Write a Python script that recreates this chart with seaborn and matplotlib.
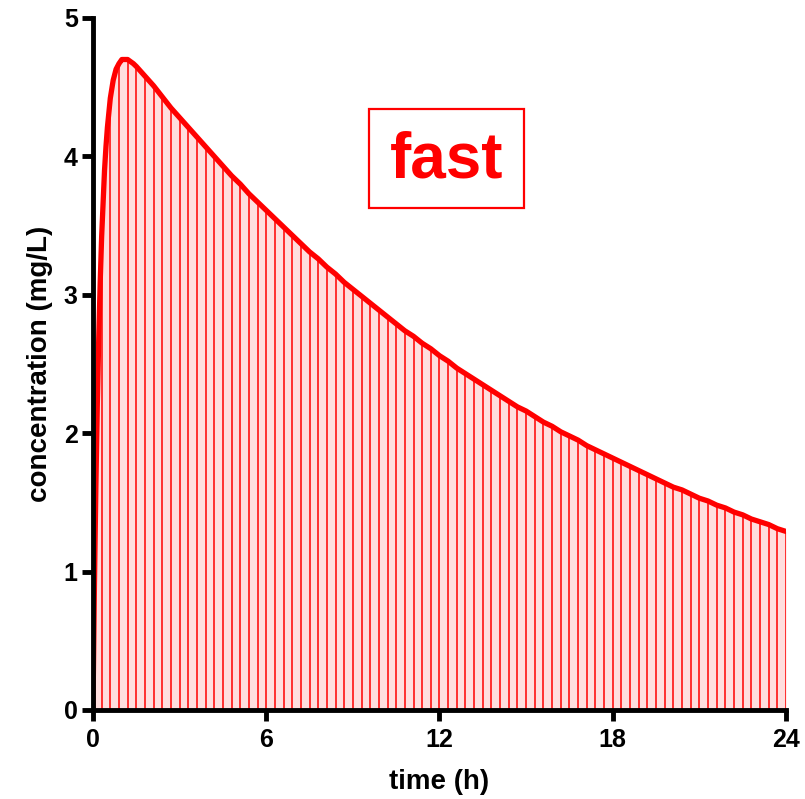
"""Concentration-time profile, fast absorption (one-compartment oral dose)."""

import matplotlib
matplotlib.use("Agg")
import matplotlib.pyplot as plt
import seaborn as sns
import pandas as pd
from matplotlib.patches import Rectangle

# sampled points, every 0.3 h (each one gets a vertical line)
time_h = [round(i * 0.3, 1) for i in range(81)]
conc = [
    0.00, 3.42, 4.42, 4.67, 4.70, 4.65, 4.58, 4.51, 4.43, 4.35,
    4.28, 4.21, 4.14, 4.07, 4.00, 3.93, 3.86, 3.80, 3.73, 3.67,
    3.61, 3.55, 3.49, 3.43, 3.37, 3.31, 3.26, 3.20, 3.15, 3.09,
    3.04, 2.99, 2.94, 2.89, 2.84, 2.79, 2.74, 2.70, 2.65, 2.61,
    2.56, 2.52, 2.47, 2.43, 2.39, 2.35, 2.31, 2.27, 2.23, 2.19,
    2.16, 2.12, 2.08, 2.05, 2.01, 1.98, 1.95, 1.91, 1.88, 1.85,
    1.82, 1.79, 1.76, 1.73, 1.70, 1.67, 1.64, 1.61, 1.59, 1.56,
    1.53, 1.51, 1.48, 1.46, 1.43, 1.41, 1.38, 1.36, 1.34, 1.31,
    1.29,
]

# extra points on the steep absorption phase so the curve stays smooth
time_rise = [0.05, 0.1, 0.15, 0.2, 0.25, 0.4, 0.45, 0.5, 0.7, 0.8, 1.0, 1.1, 1.4]
conc_rise = [0.89, 1.61, 2.21, 2.69, 3.09, 3.90, 4.07, 4.21, 4.55, 4.63, 4.70, 4.70, 4.67]

x_ticks = [0, 6, 12, 18, 24]
y_ticks = [0, 1, 2, 3, 4, 5]
label = "fast"

RED = "#FF0000"
PINK = "#FFDEDE"

sns.set_theme(style="ticks")
plt.rcParams["font.family"] = ["Liberation Sans", "DejaVu Sans"]
plt.rcParams["font.weight"] = "bold"
plt.rcParams["text.color"] = "black"
plt.rcParams["axes.labelcolor"] = "black"

curve = (
    pd.DataFrame({"time": time_h + time_rise, "conc": conc + conc_rise})
    .sort_values("time")
    .reset_index(drop=True)
)

fig = plt.figure(figsize=(8.05, 7.99), dpi=100)
ax = fig.add_axes([0.1155, 0.1114, 0.8609, 0.8661])

ax.fill_between(curve["time"], 0, curve["conc"], color=PINK, lw=0, zorder=1)
ax.vlines(time_h, 0, conc, color=RED, lw=1.1, zorder=2)
sns.lineplot(data=curve, x="time", y="conc", color=RED, lw=3.8,
             ax=ax, zorder=3, solid_capstyle="round")

ax.set_xlim(0, 24)
ax.set_ylim(0, 5)
ax.set_xticks(x_ticks)
ax.set_yticks(y_ticks)
ax.set_xlabel("time (h)", fontsize=20, fontweight="bold", labelpad=12)
ax.set_ylabel("concentration (mg/L)", fontsize=20, fontweight="bold", labelpad=8)
ax.tick_params(axis="both", labelsize=18, width=3.5, length=8, direction="out",
               color="black", labelcolor="black")
ax.tick_params(axis="x", pad=5)
ax.tick_params(axis="y", pad=3)
for lab in ax.get_xticklabels() + ax.get_yticklabels():
    lab.set_fontweight("bold")

sns.despine(ax=ax)
for side in ("left", "bottom"):
    ax.spines[side].set_linewidth(3.5)
    ax.spines[side].set_color("black")
    ax.spines[side].set_zorder(5)
    ax.spines[side].set_capstyle("projecting")

# label box
ax.add_patch(Rectangle((9.56, 3.63), 5.37, 0.71, fill=True, facecolor="white",
                       edgecolor=RED, lw=1.6, zorder=4))
ax.text(12.24, 3.97, label, color=RED, fontsize=46, fontweight="bold",
        ha="center", va="center", zorder=5)

fig.savefig("out.png", dpi=100)
